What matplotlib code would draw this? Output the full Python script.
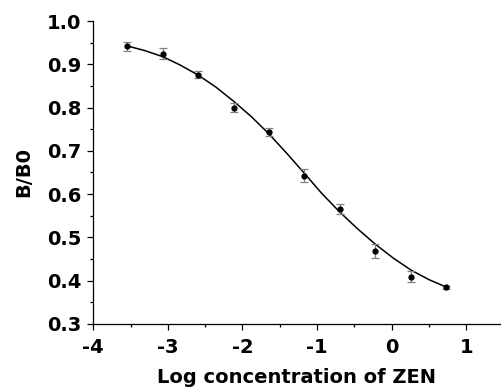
import matplotlib
matplotlib.use('Agg')
import matplotlib.pyplot as plt
from matplotlib.ticker import MultipleLocator, FormatStrFormatter

''' Data read from the reference '''
log_conc = [-3.55, -3.07, -2.60, -2.12, -1.65, -1.17, -0.70, -0.22, 0.26, 0.73]
b_b0 = [0.942, 0.925, 0.876, 0.800, 0.743, 0.642, 0.565, 0.468, 0.409, 0.384]
b_b0_err = [0.010, 0.012, 0.008, 0.010, 0.009, 0.015, 0.011, 0.016, 0.013, 0.004]

# fitted curve
fit_x = [-3.55, -3.31, -3.07, -2.84, -2.60, -2.36, -2.12, -1.88, -1.65, -1.41,
         -1.17, -0.94, -0.70, -0.46, -0.22, 0.02, 0.26, 0.50, 0.73]
fit_y = [0.943, 0.932, 0.918, 0.899, 0.876, 0.848, 0.815, 0.779, 0.740, 0.695,
         0.648, 0.602, 0.559, 0.520, 0.484, 0.452, 0.424, 0.402, 0.385]

plt.rcParams['font.family'] = ['DejaVu Sans']
plt.rcParams['font.weight'] = 'bold'

fig = plt.figure(figsize=(5.01, 3.92), dpi=100)
ax = fig.add_axes([0.186, 0.174, 0.812, 0.772])

ax.plot(fit_x, fit_y, color='black', lw=1.1, zorder=2)
ax.errorbar(log_conc, b_b0, yerr=b_b0_err, fmt='none', ecolor='#808080',
            elinewidth=0.9, capsize=3, capthick=0.9, zorder=3)
ax.plot(log_conc, b_b0, 'o', color='black', ms=3.5, zorder=4)

ax.set_xlim(-4, 1.45)
ax.set_ylim(0.3, 1.0)
ax.xaxis.set_major_locator(MultipleLocator(1))
ax.xaxis.set_minor_locator(MultipleLocator(0.5))
ax.yaxis.set_major_locator(MultipleLocator(0.1))
ax.yaxis.set_minor_locator(MultipleLocator(0.05))
ax.tick_params(which='major', direction='out', length=4.5, width=0.9, labelsize=14)
ax.tick_params(axis='y', which='major', pad=4)
ax.tick_params(axis='x', which='major', pad=6)
ax.tick_params(which='minor', direction='out', length=2.5, width=0.9)
ax.yaxis.set_major_formatter(FormatStrFormatter('%.1f'))
ax.xaxis.set_major_formatter(FormatStrFormatter('%d'))

for s in ['top', 'right']:
    ax.spines[s].set_visible(False)
for s in ['left', 'bottom']:
    ax.spines[s].set_linewidth(0.9)

ax.set_xlabel('Log concentration of ZEN', fontsize=14, fontweight='bold', labelpad=8)
ax.set_ylabel('B/B0', fontsize=14, fontweight='bold', labelpad=10)

fig.savefig('out.png', dpi=100)
